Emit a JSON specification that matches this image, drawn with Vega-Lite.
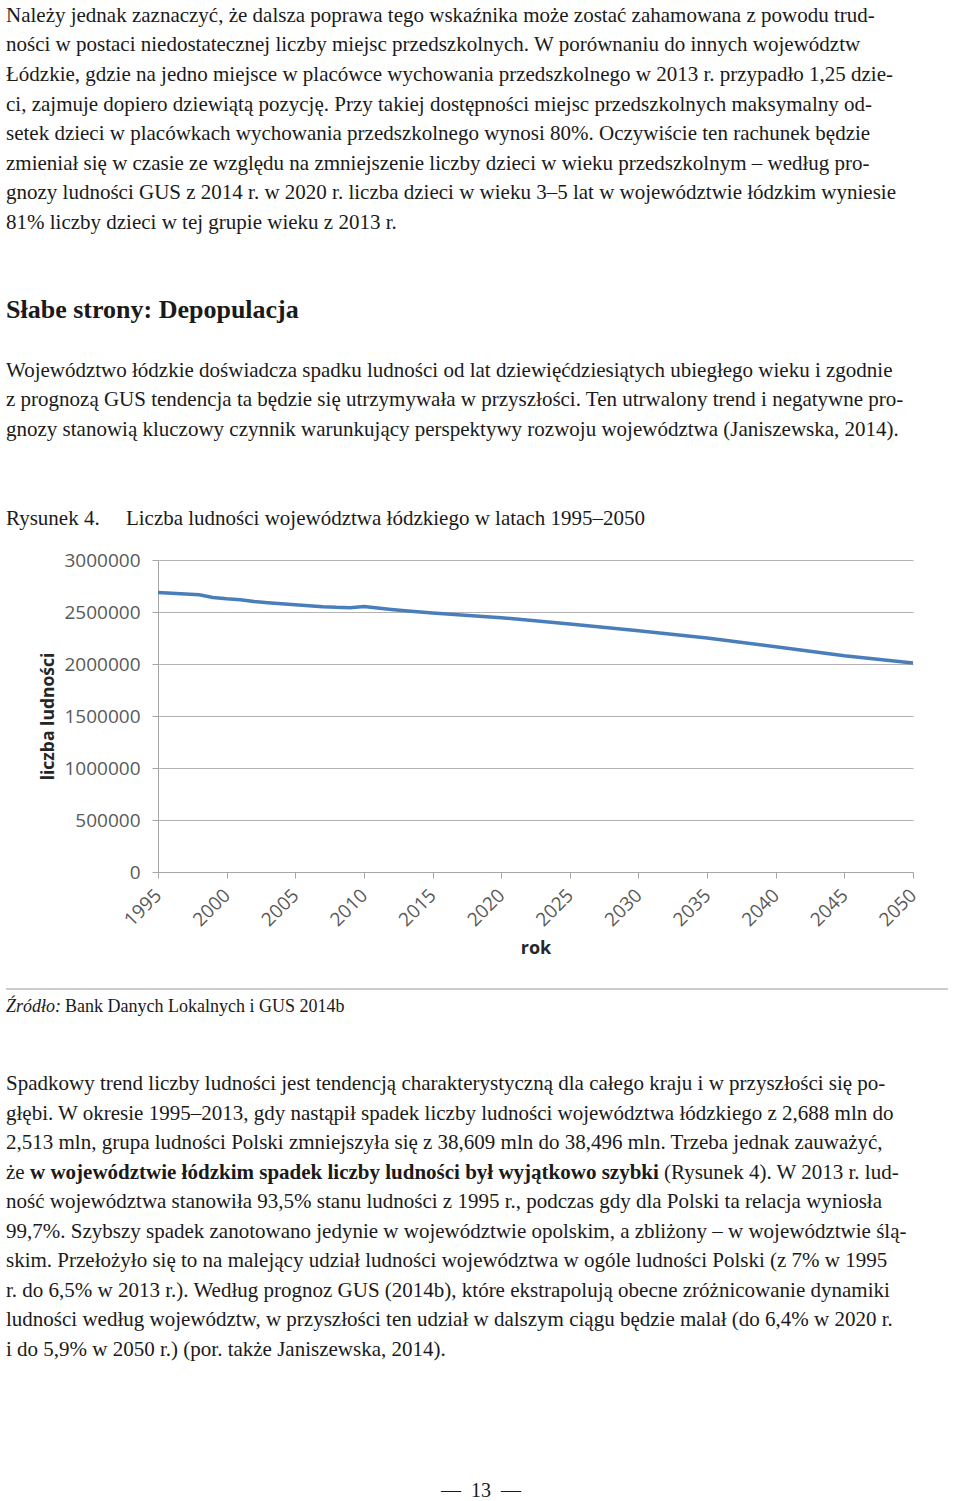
{
  "$schema": "https://vega.github.io/schema/vega-lite/v6.json",
  "background": "white",
  "padding": {"left": 5, "top": 0, "right": 0, "bottom": 0},
  "spacing": 0,
  "bounds": "flush",
  "config": {
    "view": {"stroke": null},
    "axis": {
      "labelFont": "Open Sans",
      "labelFontSize": 19,
      "labelColor": "#595959",
      "titleFont": "Open Sans",
      "titleFontWeight": "bold",
      "titleFontSize": 18,
      "titleColor": "#262626",
      "domainColor": "#a6a6a6",
      "tickColor": "#a6a6a6",
      "gridColor": "#b3b3b3",
      "gridOpacity": 1
    }
  },
  "vconcat": [
    {
      "width": 950,
      "height": 560,
      "layer": [
        {
          "data": {"values": [
            {"line": 0, "text": "Należy jednak zaznaczyć, że dalsza poprawa tego wskaźnika może zostać zahamowana z powodu trud-"},
            {"line": 1, "text": "ności w postaci niedostatecznej liczby miejsc przedszkolnych. W porównaniu do innych województw"},
            {"line": 2, "text": "Łódzkie, gdzie na jedno miejsce w placówce wychowania przedszkolnego w 2013 r. przypadło 1,25 dzie-"},
            {"line": 3, "text": "ci, zajmuje dopiero dziewiątą pozycję. Przy takiej dostępności miejsc przedszkolnych maksymalny od-"},
            {"line": 4, "text": "setek dzieci w placówkach wychowania przedszkolnego wynosi 80%. Oczywiście ten rachunek będzie"},
            {"line": 5, "text": "zmieniał się w czasie ze względu na zmniejszenie liczby dzieci w wieku przedszkolnym – według pro-"},
            {"line": 6, "text": "gnozy ludności GUS z 2014 r. w 2020 r. liczba dzieci w wieku 3–5 lat w województwie łódzkim wyniesie"},
            {"line": 7, "text": "81% liczby dzieci w tej grupie wieku z 2013 r."},
            {"line": 12, "text": "Województwo łódzkie doświadcza spadku ludności od lat dziewięćdziesiątych ubiegłego wieku i zgodnie"},
            {"line": 13, "text": "z prognozą GUS tendencja ta będzie się utrzymywała w przyszłości. Ten utrwalony trend i negatywne pro-"},
            {"line": 14, "text": "gnozy stanowią kluczowy czynnik warunkujący perspektywy rozwoju województwa (Janiszewska, 2014)."},
            {"line": 17, "text": "Rysunek 4.\u00a0\u00a0\u00a0\u00a0\u00a0Liczba ludności województwa łódzkiego w latach 1995–2050"}
          ]},
          "mark": {"type": "text", "align": "left", "baseline": "alphabetic", "font": "Liberation Serif", "fontSize": 21, "color": "#1a1a1a"},
          "encoding": {
            "x": {"value": 0},
            "y": {"field": "line", "type": "quantitative", "scale": {"domain": [-0.74, 18.198], "reverse": true, "nice": false, "zero": false}, "axis": null},
            "text": {"field": "text"}
          }
        },
        {
          "data": {"values": [{"line": 10, "text": "Słabe strony: Depopulacja"}]},
          "mark": {"type": "text", "align": "left", "baseline": "alphabetic", "font": "Liberation Serif", "fontSize": 26, "fontWeight": "bold", "color": "#1a1a1a"},
          "encoding": {
            "x": {"value": 0},
            "y": {"field": "line", "type": "quantitative", "scale": {"domain": [-0.74, 18.198], "reverse": true, "nice": false, "zero": false}, "axis": null},
            "text": {"field": "text"}
          }
        }
      ]
    },
    {
      "width": 907,
      "height": 312,
      "data": {"values": [
        {"rok": 1995, "ludnosc": 2687800},
        {"rok": 1996, "ludnosc": 2680000},
        {"rok": 1997, "ludnosc": 2673000},
        {"rok": 1998, "ludnosc": 2665000},
        {"rok": 1999, "ludnosc": 2640000},
        {"rok": 2000, "ludnosc": 2627000},
        {"rok": 2001, "ludnosc": 2617000},
        {"rok": 2002, "ludnosc": 2601000},
        {"rok": 2003, "ludnosc": 2590000},
        {"rok": 2004, "ludnosc": 2580000},
        {"rok": 2005, "ludnosc": 2570000},
        {"rok": 2006, "ludnosc": 2560000},
        {"rok": 2007, "ludnosc": 2551000},
        {"rok": 2008, "ludnosc": 2545000},
        {"rok": 2009, "ludnosc": 2542000},
        {"rok": 2010, "ludnosc": 2552000},
        {"rok": 2011, "ludnosc": 2538000},
        {"rok": 2012, "ludnosc": 2525000},
        {"rok": 2013, "ludnosc": 2513000},
        {"rok": 2015, "ludnosc": 2490000},
        {"rok": 2020, "ludnosc": 2445000},
        {"rok": 2025, "ludnosc": 2385000},
        {"rok": 2030, "ludnosc": 2320000},
        {"rok": 2035, "ludnosc": 2250000},
        {"rok": 2040, "ludnosc": 2165000},
        {"rok": 2045, "ludnosc": 2080000},
        {"rok": 2050, "ludnosc": 2010000}
      ]},
      "mark": {"type": "line", "color": "#4a7ebb", "strokeWidth": 3.5},
      "encoding": {
        "x": {
          "field": "rok", "type": "quantitative",
          "scale": {"domain": [1995, 2050], "range": [152, 907], "nice": false, "zero": false},
          "axis": {
            "title": "rok",
            "values": [1995, 2000, 2005, 2010, 2015, 2020, 2025, 2030, 2035, 2040, 2045, 2050],
            "format": "d",
            "labelAngle": -45,
            "labelAlign": "right",
            "labelBaseline": "middle",
            "labelPadding": 14,
            "labelFlush": false,
            "labelOverlap": false,
            "grid": false,
            "tickSize": 6,
            "titlePadding": 10
          }
        },
        "y": {
          "field": "ludnosc", "type": "quantitative",
          "scale": {"domain": [0, 3000000], "nice": false},
          "axis": {
            "title": "liczba ludności",
            "values": [0, 500000, 1000000, 1500000, 2000000, 2500000, 3000000],
            "format": "d",
            "grid": true,
            "offset": -152,
            "tickSize": 6,
            "labelPadding": 12,
            "titlePadding": 6,
            "titleFontSize": 17.5
          }
        }
      }
    },
    {
      "width": 942,
      "height": 188,
      "layer": [
        {
          "data": {"values": [{}]},
          "mark": {"type": "rule", "color": "#9a9a9a", "strokeWidth": 1},
          "encoding": {
            "y": {"datum": 0, "type": "quantitative", "scale": {"domain": [-5.087, 3.087], "reverse": true, "nice": false, "zero": false}, "axis": null}
          }
        },
        {
          "data": {"values": [{"line": 1, "text": "Źródło:"}]},
          "mark": {"type": "text", "align": "left", "baseline": "alphabetic", "font": "Liberation Serif", "fontSize": 18, "fontStyle": "italic", "color": "#1a1a1a"},
          "encoding": {
            "x": {"value": 0},
            "y": {"field": "line", "type": "quantitative", "scale": {"domain": [-5.087, 3.087], "reverse": true, "nice": false, "zero": false}, "axis": null},
            "text": {"field": "text"}
          }
        },
        {
          "data": {"values": [{"line": 1, "text": "Bank Danych Lokalnych i GUS 2014b"}]},
          "mark": {"type": "text", "align": "left", "baseline": "alphabetic", "font": "Liberation Serif", "fontSize": 18, "dx": 59, "color": "#1a1a1a"},
          "encoding": {
            "x": {"value": 0},
            "y": {"field": "line", "type": "quantitative", "scale": {"domain": [-5.087, 3.087], "reverse": true, "nice": false, "zero": false}, "axis": null},
            "text": {"field": "text"}
          }
        }
      ]
    },
    {
      "width": 950,
      "height": 380,
      "layer": [
        {
          "data": {"values": [
            {"line": 0, "text": "Spadkowy trend liczby ludności jest tendencją charakterystyczną dla całego kraju i w przyszłości się po-"},
            {"line": 1, "text": "głębi. W okresie 1995–2013, gdy nastąpił spadek liczby ludności województwa łódzkiego z 2,688 mln do"},
            {"line": 2, "text": "2,513 mln, grupa ludności Polski zmniejszyła się z 38,609 mln do 38,496 mln. Trzeba jednak zauważyć,"},
            {"line": 3, "text": "że"},
            {"line": 4, "text": "ność województwa stanowiła 93,5% stanu ludności z 1995 r., podczas gdy dla Polski ta relacja wyniosła"},
            {"line": 5, "text": "99,7%. Szybszy spadek zanotowano jedynie w województwie opolskim, a zbliżony – w województwie ślą-"},
            {"line": 6, "text": "skim. Przełożyło się to na malejący udział ludności województwa w ogóle ludności Polski (z 7% w 1995"},
            {"line": 7, "text": "r. do 6,5% w 2013 r.). Według prognoz GUS (2014b), które ekstrapolują obecne zróżnicowanie dynamiki"},
            {"line": 8, "text": "ludności według województw, w przyszłości ten udział w dalszym ciągu będzie malał (do 6,4% w 2020 r."},
            {"line": 9, "text": "i do 5,9% w 2050 r.) (por. także Janiszewska, 2014)."}
          ]},
          "mark": {"type": "text", "align": "left", "baseline": "alphabetic", "font": "Liberation Serif", "fontSize": 21, "color": "#1a1a1a"},
          "encoding": {
            "x": {"value": 0},
            "y": {"field": "line", "type": "quantitative", "scale": {"domain": [-1.015, 11.84], "reverse": true, "nice": false, "zero": false}, "axis": null},
            "text": {"field": "text"}
          }
        },
        {
          "data": {"values": [{"line": 3, "text": "w województwie łódzkim spadek liczby ludności był wyjątkowo szybki"}]},
          "mark": {"type": "text", "align": "left", "baseline": "alphabetic", "font": "Liberation Serif", "fontSize": 21, "fontWeight": "bold", "dx": 24, "color": "#1a1a1a"},
          "encoding": {
            "x": {"value": 0},
            "y": {"field": "line", "type": "quantitative", "scale": {"domain": [-1.015, 11.84], "reverse": true, "nice": false, "zero": false}, "axis": null},
            "text": {"field": "text"}
          }
        },
        {
          "data": {"values": [{"line": 3, "text": "(Rysunek 4). W 2013 r. lud-"}]},
          "mark": {"type": "text", "align": "left", "baseline": "alphabetic", "font": "Liberation Serif", "fontSize": 21, "dx": 658, "color": "#1a1a1a"},
          "encoding": {
            "x": {"value": 0},
            "y": {"field": "line", "type": "quantitative", "scale": {"domain": [-1.015, 11.84], "reverse": true, "nice": false, "zero": false}, "axis": null},
            "text": {"field": "text"}
          }
        }
      ]
    },
    {
      "width": 950,
      "height": 61,
      "data": {"values": [{"line": 0, "text": "—\u00a0\u00a013\u00a0\u00a0—"}]},
      "mark": {"type": "text", "align": "center", "baseline": "alphabetic", "font": "Liberation Serif", "fontSize": 20, "color": "#1a1a1a"},
      "encoding": {
        "y": {"field": "line", "type": "quantitative", "scale": {"domain": [-1, 0.0702], "reverse": true, "nice": false, "zero": false}, "axis": null},
        "text": {"field": "text"}
      }
    }
  ]
}
